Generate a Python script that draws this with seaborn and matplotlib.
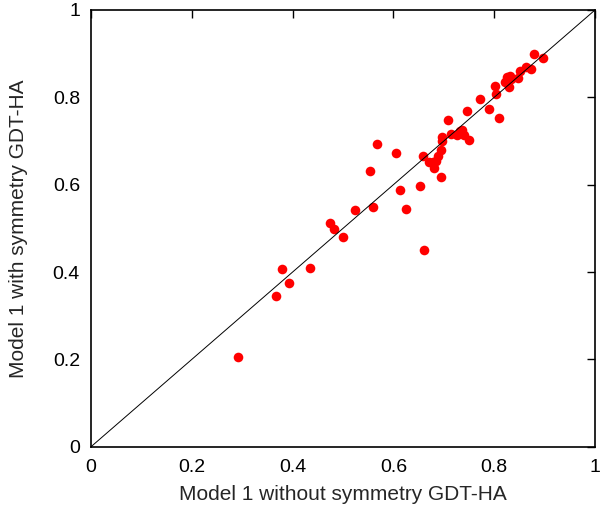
import matplotlib
matplotlib.use("Agg")
import matplotlib.pyplot as plt
import seaborn as sns
import pandas as pd

without_sym = [0.292, 0.368, 0.378, 0.393, 0.434, 0.475, 0.483, 0.499, 0.523, 0.553,
               0.560, 0.568, 0.605, 0.614, 0.624, 0.653, 0.661, 0.658, 0.671, 0.678,
               0.681, 0.685, 0.689, 0.694, 0.694, 0.697, 0.696, 0.708, 0.714, 0.726,
               0.732, 0.736, 0.740, 0.749, 0.745, 0.771, 0.790, 0.802, 0.804, 0.809,
               0.821, 0.825, 0.829, 0.833, 0.847, 0.851, 0.864, 0.872, 0.878, 0.897,
               0.827, 0.831]
with_sym = [0.206, 0.344, 0.406, 0.376, 0.409, 0.513, 0.499, 0.481, 0.541, 0.631,
            0.550, 0.693, 0.673, 0.588, 0.545, 0.596, 0.450, 0.666, 0.653, 0.651,
            0.639, 0.655, 0.666, 0.618, 0.679, 0.699, 0.710, 0.748, 0.715, 0.714,
            0.723, 0.725, 0.714, 0.702, 0.769, 0.797, 0.774, 0.826, 0.808, 0.753,
            0.836, 0.846, 0.823, 0.843, 0.844, 0.861, 0.869, 0.864, 0.899, 0.889,
            0.838, 0.848]
tick_vals = [0, 0.2, 0.4, 0.6, 0.8, 1]
tick_labels = ["0", "0.2", "0.4", "0.6", "0.8", "1"]

df = pd.DataFrame({"without": without_sym, "with": with_sym})

sns.set_style("white")
plt.rcParams['font.family'] = ['Liberation Sans', 'DejaVu Sans']

fig = plt.figure(figsize=(6, 5.12), dpi=100)
ax = fig.add_axes([0.1517, 0.1275, 0.84, 0.853])

sns.scatterplot(data=df, x="without", y="with", ax=ax, color="#ff0000",
                s=48, linewidth=0, zorder=2)
ax.plot([0, 1], [0, 1], color="black", linewidth=0.7, zorder=3)

ax.set_xlim(0, 1)
ax.set_ylim(0, 1)
ax.set_xticks(tick_vals)
ax.set_xticklabels(tick_labels)
ax.set_yticks(tick_vals)
ax.set_yticklabels(tick_labels)
ax.tick_params(direction="in", length=6, width=1, top=True, right=True,
               labelsize=14, colors="black")
ax.tick_params(axis="x", pad=9)
ax.tick_params(axis="y", pad=8)
for sp in ax.spines.values():
    sp.set_color("black")
    sp.set_linewidth(1.2)
ax.set_xlabel("Model 1 without symmetry GDT-HA", fontsize=15, labelpad=6)
ax.set_ylabel("Model 1 with symmetry GDT-HA", fontsize=15, labelpad=18)

fig.savefig("out.png", dpi=100)
